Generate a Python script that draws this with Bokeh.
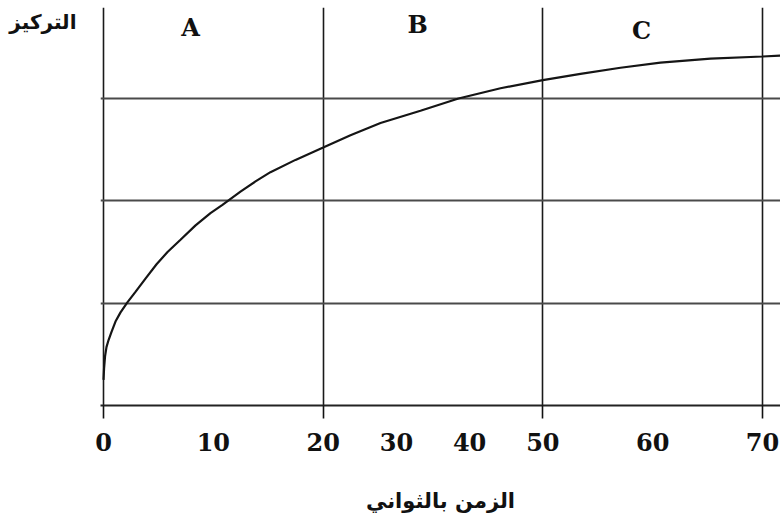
import numpy as np
from bokeh.plotting import figure
from bokeh.models import Range1d, FixedTicker, Label
from bokeh.embed import file_html
from bokeh.resources import INLINE

# Time (s) at the zone boundaries; every zone gets the same width on the axis
zone_bounds = [0, 20, 50, 70]
zone_names = ["A", "B", "C"]
tick_times = [0, 10, 20, 30, 40, 50, 60, 70]
conc_levels = [1, 2, 3]

# Concentration curve (arbitrary units) against time in seconds
time_s = [0, 0.05, 0.14, 0.27, 0.46, 0.73, 1.09, 1.55, 2.19, 2.91, 3.82,
          4.83, 5.83, 7.01, 8.38, 9.74, 10.83, 12.47, 13.84, 15.2, 17.48,
          20, 23.73, 27.83, 33.29, 38.48, 44.22, 50, 53.43, 57.07, 60.71,
          65.27, 70, 71.64]
conc = [0.25, 0.36, 0.48, 0.57, 0.64, 0.72, 0.82, 0.91, 1.01, 1.11, 1.24,
        1.38, 1.50, 1.62, 1.76, 1.88, 1.96, 2.09, 2.19, 2.28, 2.40,
        2.52, 2.64, 2.76, 2.88, 3.0, 3.10, 3.18, 3.24, 3.30, 3.35,
        3.39, 3.41, 3.42]

y_title = "التركيز"
x_title = "الزمن بالثواني"


def to_axis(t):
    """Map seconds onto the zone axis (each zone is one unit wide)."""
    t = np.asarray(t, dtype=float)
    idx = np.arange(len(zone_bounds), dtype=float)
    u = np.interp(t, zone_bounds, idx)
    last = zone_bounds[-1] - zone_bounds[-2]
    return np.where(t > zone_bounds[-1], idx[-1] + (t - zone_bounds[-1]) / last, u)


p = figure(width=780, height=522, output_backend="svg", toolbar_location=None,
           x_range=Range1d(-0.0137, 3.082), y_range=Range1d(0, 3.889),
           min_border_left=100, min_border_right=0, min_border_top=7,
           min_border_bottom=117)
p.outline_line_color = None
p.background_fill_color = "white"
p.border_fill_color = "white"

tick_pos = [float(v) for v in to_axis(tick_times)]
zone_pos = [float(v) for v in to_axis(zone_bounds)]

# Bottom axis: time labels, with short tick marks only at the zone boundaries
ax = p.xaxis[0]
ax.ticker = FixedTicker(ticks=tick_pos, minor_ticks=zone_pos)
ax.major_label_overrides = {u: str(t) for u, t in zip(tick_pos, tick_times)}
ax.major_tick_line_color = None
ax.major_tick_in = 0
ax.major_tick_out = 0
ax.minor_tick_line_color = "#111111"
ax.minor_tick_line_width = 1.6
ax.minor_tick_in = 0
ax.minor_tick_out = 13
ax.axis_line_color = "#222222"
ax.axis_line_width = 1.8
ax.major_label_text_font = "DejaVu Serif"
ax.major_label_text_font_style = "bold"
ax.major_label_text_font_size = "24px"
ax.major_label_text_color = "#111111"
ax.major_label_standoff = 14
ax.axis_label = x_title
ax.axis_label_text_font = "DejaVu Sans"
ax.axis_label_text_font_style = "bold"
ax.axis_label_text_font_size = "21px"
ax.axis_label_text_color = "#111111"
ax.axis_label_standoff = 35

# Left axis: no line or ticks, just the horizontal title near the top
y_title_level = 3.743
yax = p.yaxis[0]
yax.ticker = FixedTicker(ticks=[y_title_level])
yax.major_label_overrides = {y_title_level: y_title}
yax.axis_line_color = None
yax.major_tick_line_color = None
yax.minor_tick_line_color = None
yax.major_tick_in = 0
yax.major_tick_out = 0
yax.major_label_orientation = "horizontal"
yax.major_label_standoff = 24
yax.major_label_text_font = "DejaVu Sans"
yax.major_label_text_font_style = "bold"
yax.major_label_text_font_size = "20px"
yax.major_label_text_color = "#111111"

p.xgrid.ticker = FixedTicker(ticks=zone_pos)
p.xgrid.grid_line_color = "#1a1a1a"
p.xgrid.grid_line_width = 1.6
p.ygrid.ticker = FixedTicker(ticks=conc_levels)
p.ygrid.grid_line_color = "#4a4a4a"
p.ygrid.grid_line_width = 2

p.line(to_axis(time_s), conc, line_color="#151515", line_width=2.2)

# Zone letters, placed inside each zone near the top
zone_offsets = [0.396, 0.43, 0.45]
zone_heights = [3.69, 3.72, 3.66]
for i, (name, off, h) in enumerate(zip(zone_names, zone_offsets, zone_heights)):
    p.add_layout(Label(x=i + off, y=h, text=name, text_font="DejaVu Serif",
                       text_font_style="bold", text_font_size="24px",
                       text_color="#111111", text_align="center",
                       text_baseline="middle"))

open("out.html", "w").write(file_html(p, INLINE))
